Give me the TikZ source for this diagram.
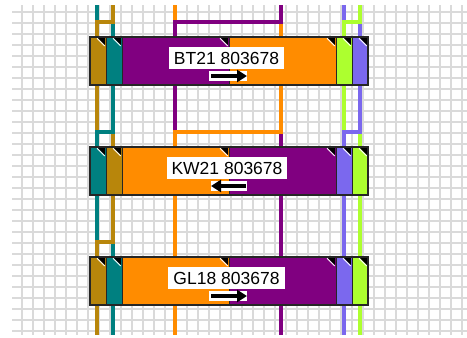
\documentclass[tikz,border=0pt]{standalone}
\usepackage{fontspec}
\setmainfont{Liberation Sans}
\usetikzlibrary{arrows.meta}
\definecolor{cbrown}{HTML}{B8860B}
\definecolor{cteal}{HTML}{008080}
\definecolor{cpurple}{HTML}{800080}
\definecolor{corange}{HTML}{FF8C00}
\definecolor{cgreen}{HTML}{ADFF2F}
\definecolor{cviolet}{HTML}{7B68EE}
\definecolor{cgrid}{HTML}{DADADA}
\begin{document}
\begin{tikzpicture}[x=1pt,y=-1pt,
  gridline/.style={cgrid,line width=1.8pt},
  track/.style={line width=4.3pt},
  lbl/.style={fill=white,inner xsep=5pt,inner ysep=0pt,minimum height=22pt,
    font=\fontsize{17.5}{20}\selectfont,text=black},
  dirarrow/.style={line width=3.5pt,-{Triangle[length=10pt,width=12pt]}}]
\useasboundingbox (0,0) rectangle (467,338);
\fill[white] (0,0) rectangle (467,338);
% grid
\foreach \k in {0,...,29} \draw[gridline] (12,12+11*\k) -- (467,12+11*\k);
\foreach \k in {0,...,40} \draw[gridline] (22+11*\k,5) -- (22+11*\k,335);
% tracks, section 1 (top)
\draw[track,cteal] (97,5) -- (97,22) -- (113,22) -- (113,37);
\draw[track,cbrown] (113,5) -- (113,22) -- (97,22) -- (97,37);
\draw[track,corange] (175,5) -- (175,22) -- (281,22) -- (281,37);
\draw[track,cpurple] (281,5) -- (281,22) -- (175,22) -- (175,37);
\draw[track,cviolet] (344,5) -- (344,22) -- (360,22) -- (360,37);
\draw[track,cgreen] (360,5) -- (360,22) -- (344,22) -- (344,37);
% section 2
\draw[track,cbrown] (97,85) -- (97,132) -- (113,132) -- (113,147);
\draw[track,cteal] (113,85) -- (113,132) -- (97,132) -- (97,147);
\draw[track,cpurple] (175,85) -- (175,132) -- (281,132) -- (281,147);
\draw[track,corange] (281,85) -- (281,132) -- (175,132) -- (175,147);
\draw[track,cgreen] (344,85) -- (344,132) -- (360,132) -- (360,147);
\draw[track,cviolet] (360,85) -- (360,132) -- (344,132) -- (344,147);
% section 3
\draw[track,cteal] (97,195) -- (97,242) -- (113,242) -- (113,257);
\draw[track,cbrown] (113,195) -- (113,242) -- (97,242) -- (97,257);
\draw[track,corange] (175,195) -- (175,257);
\draw[track,cpurple] (281,195) -- (281,257);
\draw[track,cviolet] (344,195) -- (344,257);
\draw[track,cgreen] (360,195) -- (360,257);
% section 4
\draw[track,cbrown] (97,305) -- (97,335);
\draw[track,cteal] (113,305) -- (113,335);
\draw[track,corange] (175,305) -- (175,335);
\draw[track,cpurple] (281,305) -- (281,335);
\draw[track,cviolet] (344,305) -- (344,335);
\draw[track,cgreen] (360,305) -- (360,335);
% boxes
\foreach \t/\ca/\cb/\cc/\cd/\ce/\cf in {
  37/cbrown/cteal/cpurple/corange/cgreen/cviolet,
  147/cteal/cbrown/corange/cpurple/cviolet/cgreen,
  257/cbrown/cteal/corange/cpurple/cviolet/cgreen} {
  \foreach \xa/\xb/\c in {90/106/\ca,106/122/\cb,122/229/\cc,229/336/\cd,336/352/\ce,352/368/\cf} {
    \filldraw[fill=\c,draw=black!85,line width=1pt] (\xa,\t) rectangle (\xb,\t+48);
    \fill[black] (\xb-8,\t+1) -- (\xb-1,\t+1) -- (\xb-1,\t+8) -- cycle;
    \draw[white,line width=0.8pt] (\xb-9,\t+1.3) -- (\xb-1.3,\t+9);
  }
  \draw[line width=1.5pt,black!85] (90,\t) rectangle (368,\t+48);
}
% labels
\node[lbl] (l1) at (226.5,58) {BT21 803678};
\node[lbl] (l2) at (227,168) {KW21 803678};
\node[lbl] (l3) at (226.5,278) {GL18 803678};
% direction arrows
\fill[white] (209,71) rectangle (247,81);
\draw[dirarrow] (211,76) -- (247,76);
\fill[white] (211,181) rectangle (247,191);
\draw[dirarrow] (246,186) -- (211,186);
\fill[white] (209,291) rectangle (247,301);
\draw[dirarrow] (211,296) -- (247,296);
\end{tikzpicture}
\end{document}
